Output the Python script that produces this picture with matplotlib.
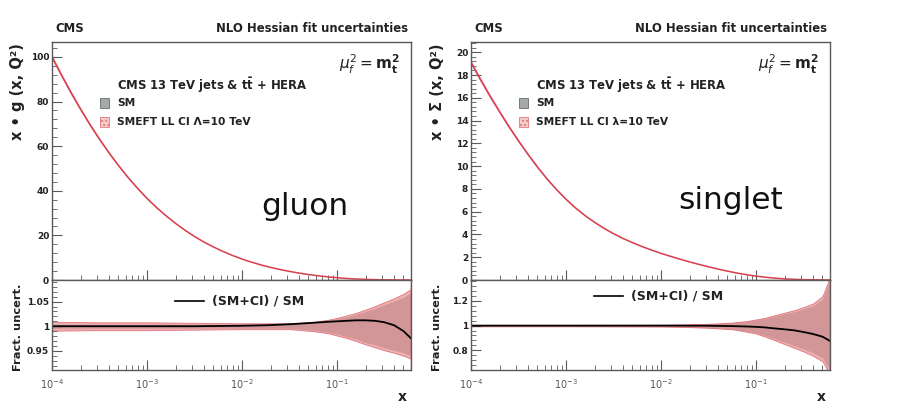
import numpy as np
import matplotlib
matplotlib.use("Agg")
import matplotlib.pyplot as plt
from matplotlib.ticker import MultipleLocator, FixedLocator, LogLocator, NullFormatter, FormatStrFormatter
from matplotlib.patches import Rectangle
from matplotlib.lines import Line2D

plt.rcParams["font.family"] = ["DejaVu Sans"]
plt.rcParams["mathtext.fontset"] = "dejavusans"

# ---- PDF values at the scale mu_f^2 = m_t^2 (log10 x grid) ----
log_x = [-4.0, -3.9, -3.8, -3.7, -3.6, -3.5, -3.4, -3.3, -3.2, -3.1,
         -3.0, -2.9, -2.8, -2.7, -2.6, -2.5, -2.4, -2.3, -2.2, -2.1,
         -2.0, -1.9, -1.8, -1.7, -1.6, -1.5, -1.4, -1.3, -1.2, -1.1,
         -1.0, -0.9, -0.8, -0.7, -0.6, -0.5, -0.4, -0.3, -0.22]
gluon = [100, 91.8, 84.0, 76.6, 69.6, 63.1, 57.0, 51.3, 46.0, 41.1,
         36.6, 32.5, 28.8, 25.4, 22.3, 19.5, 17.0, 14.8, 12.8, 11.0,
         9.4, 8.0, 6.75, 5.65, 4.7, 3.86, 3.1, 2.45, 1.9, 1.42,
         1.02, 0.7, 0.46, 0.28, 0.16, 0.085, 0.04, 0.018, 0.01]
singlet = [19.1, 17.59, 16.15, 14.78, 13.46, 12.21, 11.03, 9.91, 8.88, 7.94,
           7.09, 6.33, 5.66, 5.07, 4.54, 4.07, 3.65, 3.28, 2.94, 2.63,
           2.34, 2.08, 1.83, 1.59, 1.37, 1.16, 0.96, 0.78, 0.61, 0.465,
           0.34, 0.24, 0.16, 0.1, 0.06, 0.032, 0.016, 0.008, 0.004]

# ---- fractional uncertainties and (SM+CI)/SM ratio ----
log_x_ratio = [-4.0, -3.5, -3.0, -2.5, -2.0, -1.75, -1.5, -1.25, -1.1,
               -1.0, -0.9, -0.8, -0.7, -0.6, -0.5, -0.4, -0.3, -0.22]

gluon_ratio = [1.0, 1.0, 1.0, 1.0, 1.001, 1.002, 1.004, 1.007, 1.009,
               1.010, 1.011, 1.012, 1.012, 1.011, 1.008, 1.002, 0.99, 0.975]
gluon_ci_up = [0.009, 0.008, 0.008, 0.007, 0.006, 0.006, 0.006, 0.009, 0.013,
               0.017, 0.022, 0.027, 0.034, 0.041, 0.049, 0.057, 0.066, 0.076]
gluon_ci_dn = [0.009, 0.008, 0.008, 0.007, 0.006, 0.006, 0.006, 0.010, 0.014,
               0.019, 0.024, 0.030, 0.037, 0.043, 0.049, 0.054, 0.060, 0.066]
gluon_sm_up = [0.004, 0.004, 0.004, 0.004, 0.004, 0.004, 0.004, 0.007, 0.011,
               0.015, 0.019, 0.024, 0.030, 0.036, 0.044, 0.051, 0.059, 0.068]
gluon_sm_dn = [0.004, 0.004, 0.004, 0.004, 0.004, 0.004, 0.004, 0.008, 0.012,
               0.016, 0.021, 0.026, 0.033, 0.038, 0.044, 0.049, 0.054, 0.060]

singlet_ratio = [1.0, 1.0, 1.0, 1.0, 1.0, 1.0, 0.999, 0.996, 0.993,
                 0.99, 0.985, 0.977, 0.97, 0.962, 0.948, 0.932, 0.91, 0.875]
singlet_ci_up = [0.006, 0.006, 0.006, 0.007, 0.008, 0.010, 0.015, 0.025, 0.037,
                 0.050, 0.065, 0.085, 0.105, 0.125, 0.15, 0.18, 0.24, 0.40]
singlet_ci_dn = [0.006, 0.006, 0.006, 0.007, 0.008, 0.011, 0.018, 0.030, 0.050,
                 0.065, 0.090, 0.12, 0.15, 0.18, 0.21, 0.245, 0.29, 0.40]
singlet_sm_up = [0.004, 0.004, 0.004, 0.005, 0.006, 0.008, 0.013, 0.022, 0.033,
                 0.045, 0.058, 0.077, 0.095, 0.113, 0.135, 0.162, 0.216, 0.37]
singlet_sm_dn = [0.004, 0.004, 0.004, 0.005, 0.006, 0.009, 0.016, 0.027, 0.045,
                 0.058, 0.081, 0.108, 0.135, 0.162, 0.19, 0.22, 0.26, 0.37]

W, H = 914, 411
RED = "#d8404f"
PINK = "#e89a9c"
GREY = "#8a8a8a"
FRAME = "#5a5a5a"
TXT = "#222222"


def fx(px):
    return px / W


def fy(py):
    return 1 - py / H


fig = plt.figure(figsize=(W / 100, H / 100), dpi=100)


def style_axis(ax, show_xlabels):
    ax.set_xscale("log")
    ax.set_xlim(1e-4, 0.6)
    for s in ax.spines.values():
        s.set_color(FRAME)
        s.set_linewidth(1.0)
    ax.tick_params(which="both", direction="in", colors=FRAME, top=False, right=False)
    ax.tick_params(which="major", length=7, width=0.8)
    ax.tick_params(which="minor", length=3.5, width=0.6)
    ax.xaxis.set_major_locator(LogLocator(base=10, numticks=10))
    ax.xaxis.set_minor_locator(LogLocator(base=10, subs=np.arange(2, 10), numticks=10))
    ax.xaxis.set_minor_formatter(NullFormatter())
    ax.tick_params(axis="y", labelsize=6.5, labelcolor=TXT, pad=2)
    if show_xlabels:
        ax.tick_params(axis="x", labelsize=7, labelcolor="#555555", pad=5)
    else:
        ax.tick_params(axis="x", labelbottom=False)


def top_panel(left_px, values, ymax, major, minor, ylabel, name, name_xy):
    ax = fig.add_axes([fx(left_px), fy(280), fx(359), 238 / H])
    x = 10 ** np.array(log_x)
    v = np.array(values)
    ax.fill_between(x, v * 0.99, v * 1.01, color=PINK, lw=0)
    ax.plot(x, v, color=RED, lw=1.1)
    ax.set_ylim(0, ymax)
    ax.yaxis.set_major_locator(MultipleLocator(major))
    ax.yaxis.set_minor_locator(MultipleLocator(minor))
    ax.yaxis.set_major_formatter(FormatStrFormatter("%d"))
    style_axis(ax, False)
    for lab in ax.get_yticklabels():
        lab.set_fontweight("bold")
    fig.text(fx(left_px - 34), fy(92), ylabel, rotation=90, ha="center", va="center",
             fontsize=10.5, fontweight="bold", color=TXT)
    fig.text(fx(name_xy[0]), fy(name_xy[1]), name, ha="center", va="center",
             fontsize=22.5, color="#111111")
    return ax


def bottom_panel(left_px, ratio, ci_up, ci_dn, sm_up, sm_dn, ylim, major, minor, fmt, leg_y):
    ax = fig.add_axes([fx(left_px), fy(370), fx(359), 90 / H])
    x = 10 ** np.array(log_x_ratio)
    r = np.array(ratio)
    ax.fill_between(x, 1 - np.array(sm_dn), 1 + np.array(sm_up), color=GREY, lw=0)
    ax.fill_between(x, 1 - np.array(ci_dn), 1 + np.array(ci_up), facecolor=PINK,
                    alpha=0.78, edgecolor="#e05a60", lw=0.6)
    ax.axvline(x[-1], color="#e05a60", lw=1.0)
    ax.plot(x, r, color="black", lw=1.3)
    ax.set_ylim(*ylim)
    ax.yaxis.set_major_locator(FixedLocator(major))
    ax.yaxis.set_minor_locator(MultipleLocator(minor))
    ax.yaxis.set_major_formatter(FormatStrFormatter(fmt))
    style_axis(ax, True)
    for lab in ax.get_yticklabels():
        lab.set_fontweight("bold")
    fig.text(fx(left_px - 34), fy(327), "Fract. uncert.", rotation=90, ha="center",
             va="center", fontsize=8.2, fontweight="bold", color=TXT)
    fig.text(fx(left_px + 359 - 4), fy(397), "x", ha="right", va="center",
             fontsize=10, fontweight="bold", color=TXT)
    fig.add_artist(Line2D([fx(left_px + 123), fx(left_px + 152)], [fy(leg_y), fy(leg_y)],
                          color="black", lw=1.2))
    fig.text(fx(left_px + 160), fy(leg_y), "(SM+CI) / SM", ha="left", va="center",
             fontsize=9, fontweight="bold", color=TXT)
    return ax


def header(left_px, lam):
    fig.text(fx(left_px + 3), fy(28), "CMS", ha="left", va="center", fontsize=8.4,
             fontweight="bold", color=TXT)
    fig.text(fx(left_px + 356), fy(28), "NLO Hessian fit uncertainties", ha="right",
             va="center", fontsize=8.4, fontweight="bold", color=TXT)
    fig.text(fx(left_px + 348), fy(64), r"$\mu_f^2 = \mathbf{m_t^2}$", ha="right",
             va="center", fontsize=11, color=TXT)
    fig.text(fx(left_px + 65), fy(85), r"CMS 13 TeV jets & $\mathbf{t\bar{t}}$ + HERA",
             ha="left", va="center", fontsize=8.4, fontweight="bold", color=TXT)
    fig.text(fx(left_px + 65), fy(103), "SM", ha="left", va="center", fontsize=7.7,
             fontweight="bold", color=TXT)
    fig.text(fx(left_px + 65), fy(122), "SMEFT LL CI " + lam + "=10 TeV", ha="left",
             va="center", fontsize=7.7, fontweight="bold", color=TXT)
    fig.add_artist(Rectangle((fx(left_px + 48), fy(108)), fx(9), 10 / H,
                             facecolor="#a4aaaa", edgecolor="#6a6a6a", lw=0.6))
    fig.add_artist(Rectangle((fx(left_px + 48), fy(127)), fx(9), 10 / H,
                             facecolor="#f6c8c8", edgecolor="#e07070", lw=0.6,
                             hatch="....", alpha=0.9))


top_panel(52, gluon, 106.7, 20, 4, "x • g (x, Q²)", "gluon", (305, 206))
bottom_panel(52, gluon_ratio, gluon_ci_up, gluon_ci_dn, gluon_sm_up, gluon_sm_dn,
             (0.911, 1.094), [0.95, 1.0, 1.05], 0.01, "%g", 301)
header(52, "Λ")

top_panel(471, singlet, 20.9, 2, 0.4, "x • Σ (x, Q²)", "singlet", (731, 200))
bottom_panel(471, singlet_ratio, singlet_ci_up, singlet_ci_dn, singlet_sm_up, singlet_sm_dn,
             (0.64, 1.37), [0.8, 1.0, 1.2], 0.04, "%g", 296)
header(471, "λ")

fig.savefig("out.png", dpi=100)
